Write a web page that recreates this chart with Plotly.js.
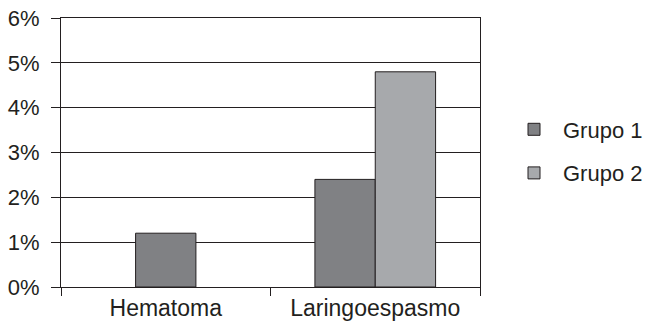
<!DOCTYPE html>
<html>
<head>
<meta charset="utf-8">
<script src="https://cdn.plot.ly/plotly-3.0.1.min.js"></script>
<style>html,body{margin:0;padding:0;background:#fff;}#chart{width:648px;height:325px;}</style>
</head>
<body>
<div id="chart"></div>
<script>
const categories = ["Hematoma", "Laringoespasmo"];
const grupo1 = [1.2, 2.4];
const grupo2 = [null, 4.8];
const seriesNames = ["Grupo 1", "Grupo 2"];
const yTicks = [0, 1, 2, 3, 4, 5, 6];
const yTickLabels = ["0%", "1%", "2%", "3%", "4%", "5%", "6%"];

const W = 0.288;
const ink = "#231f20";
const font = {family: "'Liberation Sans', Arial, sans-serif", size: 22, color: ink};
const xfont = {family: "'Liberation Sans', Arial, sans-serif", size: 23, color: ink};

const traces = [
  {type: "bar", name: seriesNames[0], x: categories, y: grupo1, width: W,
   offset: [-W/2, -W], marker: {color: "#808184", line: {color: ink, width: 1}},
   legendgroup: "g1", hoverinfo: "none"},
  {type: "bar", name: seriesNames[1], x: categories, y: grupo2, width: W,
   offset: [0, 0], marker: {color: "#a7a9ac", line: {color: ink, width: 1}},
   legendgroup: "g2", hoverinfo: "none"}
];

const layout = {
  width: 648, height: 325,
  margin: {l: 61, r: 168, t: 18, b: 38, pad: 0, autoexpand: false},
  paper_bgcolor: "#fff", plot_bgcolor: "#fff",
  font: font,
  barmode: "overlay",
  showlegend: true,
  legend: {xref: "container", yref: "container", x: 505/648, xanchor: "left",
           y: 1 - 151.5/325, yanchor: "middle",
           font: font, itemwidth: 48, traceorder: "grouped", tracegroupgap: 12,
           bgcolor: "rgba(0,0,0,0)"},
  xaxis: {type: "category", tickson: "boundaries", ticks: "outside", ticklen: 8,
          tickcolor: ink, tickwidth: 1, showline: true, linecolor: ink, linewidth: 1,
          mirror: true, showgrid: false, tickfont: xfont, range: [-0.5, 1.5]},
  yaxis: {range: [0, 6], tickvals: yTicks, ticktext: yTickLabels, ticks: "outside",
          ticklen: 9, tickcolor: ink, tickwidth: 1, showline: true, linecolor: ink,
          linewidth: 1, mirror: true, showgrid: true, gridcolor: ink, gridwidth: 1,
          zeroline: false, tickfont: font, ticklabelstandoff: 7}
};

Plotly.newPlot("chart", traces, layout, {staticPlot: true, displayModeBar: false});
</script>
</body>
</html>
